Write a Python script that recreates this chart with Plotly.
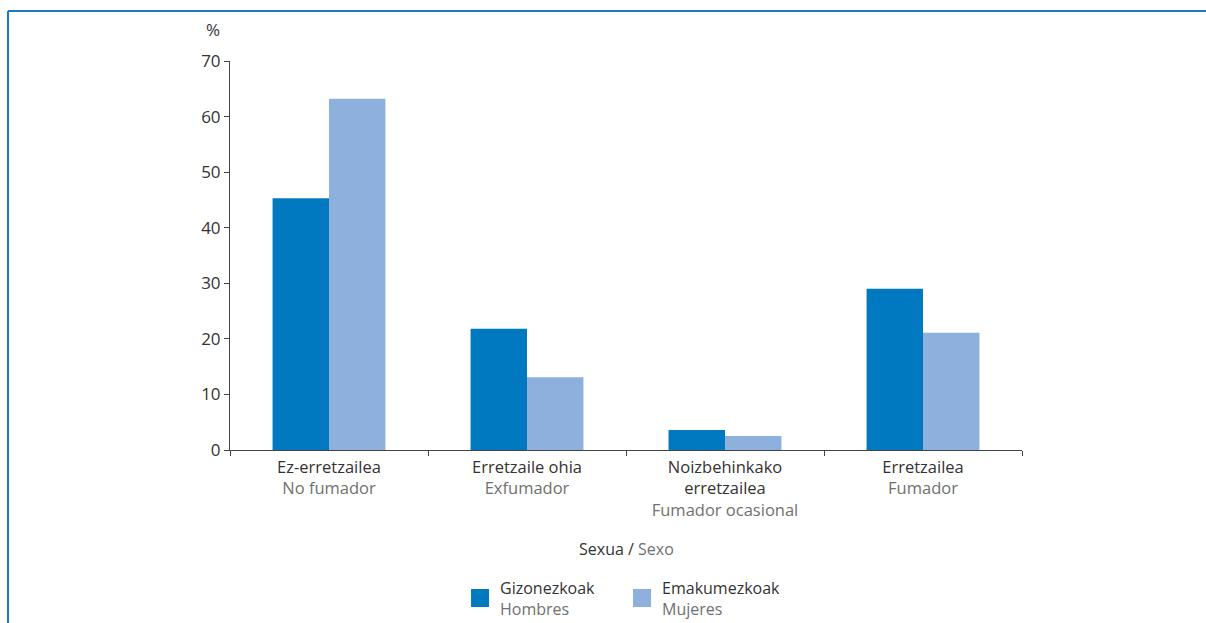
import plotly.graph_objects as go

categories_eu = ["Ez-erretzailea", "Erretzaile ohia", "Noizbehinkako<br>erretzailea", "Erretzailea"]
categories_es = ["No fumador", "Exfumador", "Fumador ocasional", "Fumador"]
men = [45.3, 21.8, 3.6, 29.0]
women = [63.2, 13.1, 2.5, 21.1]
series_eu = ["Gizonezkoak", "Emakumezkoak"]
series_es = ["Hombres", "Mujeres"]
y_ticks = [0, 10, 20, 30, 40, 50, 60, 70]

DARK = "#333333"
GRAY = "#707070"
C_MEN = "#0079C1"
C_WOMEN = "#8DB0DC"
FONT = "Open Sans, Noto Sans, sans-serif"

cats = [f"{eu}<br><span style='color:{GRAY}'>{es}</span>" for eu, es in zip(categories_eu, categories_es)]
names = [f"{eu}<br><span style='color:{GRAY}'>{es}</span>" for eu, es in zip(series_eu, series_es)]
colors = [C_MEN, C_WOMEN]

fig = go.Figure()
for vals, nm, col in zip([men, women], names, colors):
    fig.add_trace(go.Bar(x=cats, y=vals, name=nm, showlegend=False,
                         marker=dict(color=col, line=dict(width=0))))
# legend entries with larger square swatches
for nm, col in zip(names, colors):
    fig.add_trace(go.Scatter(x=[None], y=[None], mode="markers", name=nm,
                             marker=dict(symbol="square", size=16, color=col,
                                         line=dict(color=col, width=2))))

fig.update_layout(
    width=1206, height=623,
    margin=dict(l=230, r=184, t=61, b=173, autoexpand=False),
    paper_bgcolor="white", plot_bgcolor="white",
    font=dict(family=FONT, size=16, color=DARK),
    barmode="group", bargap=0.43, bargroupgap=0,
    showlegend=True,
    legend=dict(orientation="h", x=0.495, xanchor="center", y=-0.31, yanchor="top",
                font=dict(size=16, color=DARK), traceorder="normal",
                entrywidth=117, entrywidthmode="pixels"),
    xaxis=dict(showline=True, linecolor="#444", linewidth=1, ticks="outside", tickson="boundaries",
               ticklen=5, tickcolor="#444", showgrid=False, ticklabelstandoff=2,
               tickfont=dict(size=16.5, color=DARK)),
    yaxis=dict(range=[0, 70], tickvals=y_ticks, showline=True, linecolor="#444", linewidth=1,
               ticks="outside", ticklen=5, tickcolor="#444", showgrid=False, zeroline=False,
               tickfont=dict(size=17, color=DARK)),
    annotations=[
        dict(text="%", xref="paper", yref="paper", x=-0.022, y=1.045, xanchor="center", yanchor="bottom",
             showarrow=False, font=dict(size=17, color=DARK)),
        dict(text=f"Sexua / <span style='color:{GRAY}'>Sexo</span>", xref="paper", yref="paper",
             x=0.5, y=-0.255, xanchor="center", yanchor="middle", showarrow=False,
             font=dict(size=16, color=DARK)),
    ],
    shapes=[
        dict(type="line", xref="paper", yref="paper", x0=(8 - 230) / 792, x1=1.3, y0=(450 - 11) / 389,
             y1=(450 - 11) / 389, line=dict(color="#1A7BC4", width=2)),
        dict(type="line", xref="paper", yref="paper", x0=(8 - 230) / 792, x1=(8 - 230) / 792,
             y0=(450 - 11) / 389, y1=-0.5, line=dict(color="#1A7BC4", width=2)),
    ],
)

fig.write_html("out.html", config={"displayModeBar": False},
               post_script="document.body.style.margin='0';document.body.style.overflow='hidden';")
